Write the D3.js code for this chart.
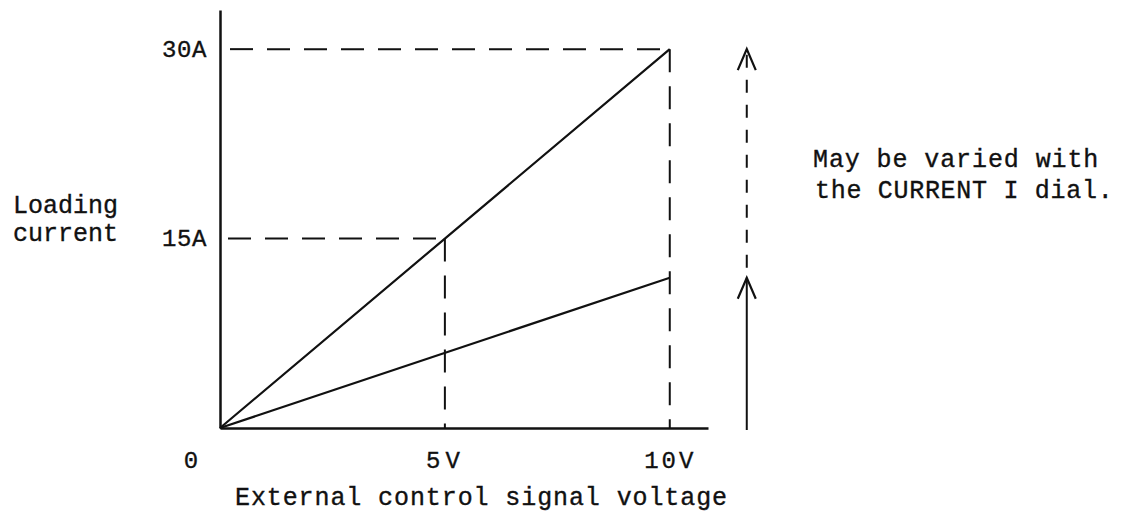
<!DOCTYPE html>
<html>
<head>
<meta charset="utf-8">
<script src="https://cdn.jsdelivr.net/npm/d3@7"></script>
<style>
  html, body { margin: 0; padding: 0; background: #fff; }
  svg { display: block; }
  text { font-family: "Liberation Mono", "Courier New", monospace; fill: #111; stroke: #111; stroke-width: 0.35px; }
</style>
</head>
<body>
<svg id="chart" width="1122" height="524"></svg>
<script>
// Voltage (V) on the external control input and resulting load current (A)
const voltageTicks = [5, 10];
const voltageTickLabels = ["5V", "10V"];
const currentTicks = [15, 30];
const currentTickLabels = ["15A", "30A"];

// Maximum-setting characteristic (full scale of CURRENT I dial)
const maxLineVoltage = [0, 5, 10];
const maxLineCurrent = [0, 15, 30];

// A lower setting of the CURRENT I dial
const lowLineVoltage = [0, 10];
const lowLineCurrent = [0, 11.9];

const axisLimits = { voltage: 10.85, current: 33.1 };

const svg = d3.select("#chart");
const ink = "#111";

const x = d3.scaleLinear().domain([0, axisLimits.voltage]).range([220, 708]);
const y = d3.scaleLinear().domain([0, axisLimits.current]).range([428, 10]);

const dash = "23,14";

// Reference guides: 15A at 5V and 30A at 10V
svg.append("line")
  .attr("x1", x(0) + 8).attr("x2", x(5))
  .attr("y1", y(15)).attr("y2", y(15))
  .attr("stroke", ink).attr("stroke-width", 2).attr("stroke-dasharray", dash);
svg.append("line")
  .attr("x1", x(5)).attr("x2", x(5))
  .attr("y1", y(15)).attr("y2", y(0))
  .attr("stroke", ink).attr("stroke-width", 2).attr("stroke-dasharray", dash);
svg.append("line")
  .attr("x1", x(0) + 10).attr("x2", x(10))
  .attr("y1", y(30)).attr("y2", y(30))
  .attr("stroke", ink).attr("stroke-width", 2).attr("stroke-dasharray", dash);
svg.append("line")
  .attr("x1", x(10)).attr("x2", x(10))
  .attr("y1", y(30)).attr("y2", y(0))
  .attr("stroke", ink).attr("stroke-width", 2).attr("stroke-dasharray", dash);

// Characteristic lines
const line = d3.line().x(d => x(d[0])).y(d => y(d[1]));
svg.append("path")
  .datum(d3.zip(maxLineVoltage, maxLineCurrent))
  .attr("d", line).attr("fill", "none").attr("stroke", ink).attr("stroke-width", 2.2);
svg.append("path")
  .datum(d3.zip(lowLineVoltage, lowLineCurrent))
  .attr("d", line).attr("fill", "none").attr("stroke", ink).attr("stroke-width", 2.2);

// Axes
const xAxis = d3.axisBottom(x)
  .tickValues(voltageTicks)
  .tickFormat((d, i) => voltageTickLabels[i])
  .tickSize(0).tickSizeOuter(0);
const gx = svg.append("g").attr("transform", `translate(0,${y(0)})`).call(xAxis);
gx.select(".domain").attr("stroke", ink).attr("stroke-width", 2.5);
gx.selectAll(".tick text")
  .attr("font-size", 24).attr("letter-spacing", (d, i) => i === 0 ? 5 : 3)
  .attr("font-family", "Liberation Mono").attr("fill", ink).attr("dy", 0)
  .attr("y", 40);

const yAxis = d3.axisLeft(y)
  .tickValues(currentTicks)
  .tickFormat((d, i) => currentTickLabels[i])
  .tickSize(0).tickSizeOuter(0).tickPadding(13);
const gy = svg.append("g").attr("transform", `translate(${x(0)},0)`).call(yAxis);
gy.select(".domain").attr("stroke", ink).attr("stroke-width", 2.5);
gy.selectAll(".tick text")
  .attr("font-size", 24).attr("letter-spacing", 0.6)
  .attr("font-family", "Liberation Mono").attr("fill", ink)
  .attr("dy", "0.3em");

// Origin label
svg.append("text").attr("x", x(0) - 29).attr("y", y(0) + 40)
  .attr("text-anchor", "middle").attr("font-size", 24).text("0");

// Axis titles
svg.append("text").attr("x", 13).attr("y", 213).attr("font-size", 25).text("Loading");
svg.append("text").attr("x", 13).attr("y", 241).attr("font-size", 25).text("current");
svg.append("text").attr("x", 235).attr("y", 505).attr("font-size", 25)
  .attr("letter-spacing", 0.9).text("External control signal voltage");

// Adjustment-range arrows beside the plot
const arrowX = x(10) + 77;
function arrowHead(tipY) {
  svg.append("path")
    .attr("d", `M${arrowX - 9},${tipY + 21} L${arrowX},${tipY} L${arrowX + 9},${tipY + 21}`)
    .attr("fill", "none").attr("stroke", ink).attr("stroke-width", 2.2);
}
svg.append("line")
  .attr("x1", arrowX).attr("x2", arrowX)
  .attr("y1", y(0) + 2).attr("y2", y(lowLineCurrent[1]))
  .attr("stroke", ink).attr("stroke-width", 2);
arrowHead(y(lowLineCurrent[1]));
svg.append("line")
  .attr("x1", arrowX).attr("x2", arrowX)
  .attr("y1", y(lowLineCurrent[1]) - 10).attr("y2", y(30) + 4)
  .attr("stroke", ink).attr("stroke-width", 2).attr("stroke-dasharray", "13,12");
arrowHead(y(30));

// Note
svg.append("text").attr("x", 813).attr("y", 167).attr("font-size", 25)
  .attr("letter-spacing", 0.9).text("May be varied with");
svg.append("text").attr("x", 815).attr("y", 198).attr("font-size", 25)
  .attr("letter-spacing", 0.7).text("the CURRENT I dial.");
</script>
</body>
</html>
